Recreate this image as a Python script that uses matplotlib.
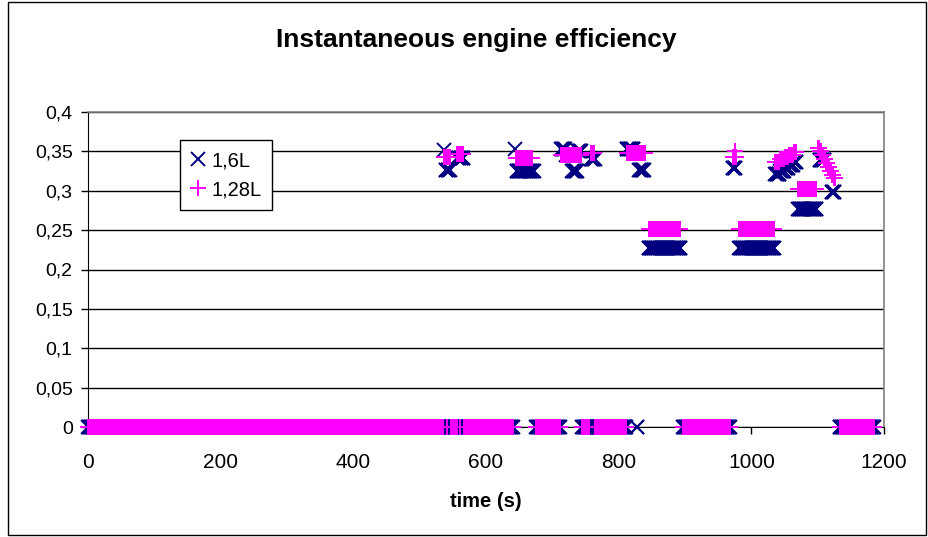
import matplotlib
matplotlib.use('Agg')
import matplotlib.pyplot as plt
from matplotlib.patches import Rectangle

plt.rcParams['font.family'] = ['Liberation Sans', 'DejaVu Sans']

# runs of 1 s samples: (start s, end s, efficiency)
ZERO_RUNS = [(0, 535), (541, 541), (547, 556), (561, 561), (567, 640),
             (676, 711), (745, 756), (765, 811), (897, 968), (1133, 1185)]

RUNS_16 = [
    (537, 537, 0.352), (539, 540, 0.326), (542, 545, 0.326), (557, 560, 0.341), (562, 566, 0.341),
    (643, 643, 0.353), (646, 672, 0.325),
    (713, 719, 0.353), (721, 727, 0.345), (730, 737, 0.325), (739, 743, 0.350), (758, 764, 0.340),
    (812, 822, 0.353), (827, 828, 0.0), (831, 838, 0.326),
    (845, 893, 0.227),
    (972, 976, 0.329),
    (982, 1034, 0.227),
    (1036, 1042, 0.321), (1043, 1049, 0.325), (1050, 1056, 0.329), (1057, 1063, 0.333), (1064, 1068, 0.336),
    (1071, 1098, 0.277),
    (1103, 1110, 0.339), (1121, 1125, 0.298),
]

RUNS_128 = [
    (536, 540, 0.343), (542, 546, 0.343), (557, 560, 0.347), (562, 566, 0.347),
    (645, 670, 0.342),
    (713, 743, 0.345), (758, 763, 0.348),
    (812, 840, 0.348),
    (845, 893, 0.252),
    (973, 977, 0.343), (975, 975, 0.350),
    (982, 1034, 0.252),
    (1036, 1042, 0.337), (1043, 1049, 0.340), (1050, 1056, 0.343), (1057, 1063, 0.346), (1064, 1068, 0.349),
    (1071, 1098, 0.302),
    (1100, 1102, 0.354), (1103, 1105, 0.350), (1106, 1108, 0.345), (1109, 1111, 0.340),
    (1112, 1114, 0.335), (1115, 1117, 0.330), (1118, 1120, 0.325), (1121, 1123, 0.320),
    (1124, 1126, 0.316),
]

YTICKS = [0, 0.05, 0.1, 0.15, 0.2, 0.25, 0.3, 0.35, 0.4]
XTICKS = [0, 200, 400, 600, 800, 1000, 1200]


def expand(runs):
    t, v = [], []
    for start, end, val in runs:
        for s in range(start, end + 1):
            t.append(s)
            v.append(val)
    return t, v


zero_runs = [(a, b, 0.0) for a, b in ZERO_RUNS]
t16, v16 = expand(zero_runs + RUNS_16)
t128, v128 = expand(zero_runs + RUNS_128)

fig = plt.figure(figsize=(9.29, 5.37), dpi=100)
fig.patches.append(Rectangle((8 / 929, 2 / 537), 918 / 929, 533 / 537,
                             transform=fig.transFigure, fill=False,
                             edgecolor='black', linewidth=1.0))
ax = fig.add_axes([88 / 929, 1 - 427 / 537, 796 / 929, 315 / 537])

ax.plot(t16, v16, 'x', color='#000080', markersize=10, markeredgewidth=1.4,
        linestyle='none', clip_on=False, label='1,6L', zorder=3)
ax.plot(t128, v128, '+', color='#FF00FF', markersize=11, markeredgewidth=1.4,
        linestyle='none', clip_on=False, label='1,28L', zorder=4)

ax.set_xlim(0, 1200)
ax.set_ylim(0, 0.4)
ax.set_xticks(XTICKS)
ax.set_xticklabels([str(x) for x in XTICKS], fontsize=15)
ax.set_yticks(YTICKS)
ax.set_yticklabels([('%g' % y).replace('.', ',') for y in YTICKS], fontsize=14)
ax.tick_params(axis='both', direction='out', length=5, width=1)
ax.tick_params(axis='y', pad=6)
ax.tick_params(axis='x', pad=14)
ax.grid(True, axis='y', color='#000000', linewidth=1.0)
ax.set_axisbelow(True)
for s in ['top', 'right']:
    ax.spines[s].set_color('#808080')
    ax.spines[s].set_linewidth(1.2)
for s in ['left', 'bottom']:
    ax.spines[s].set_color('black')

ax.set_xlabel('time (s)', fontsize=14.5, fontweight='bold', labelpad=14)
fig.text(476 / 929, 1 - 40 / 537, 'Instantaneous engine efficiency',
         ha='center', va='center', fontsize=19, fontweight='bold')

leg = ax.legend(loc='upper left', bbox_to_anchor=(0.1156, 0.911), borderaxespad=0,
                fontsize=14.5, frameon=True, fancybox=False, edgecolor='black',
                framealpha=1, handlelength=0.7, handletextpad=0.3,
                borderpad=0.55, labelspacing=0.5)
leg.get_frame().set_linewidth(1.0)

fig.savefig('out.png', dpi=100)
